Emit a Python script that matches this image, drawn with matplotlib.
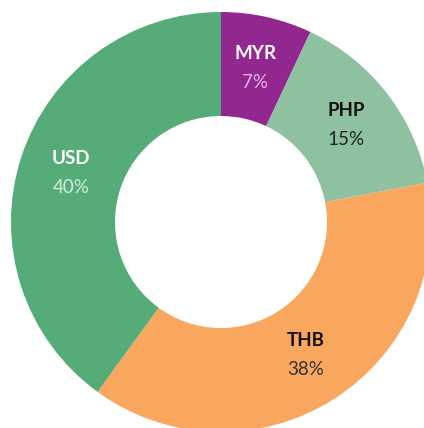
import matplotlib.pyplot as plt
import numpy as np

currencies = ['MYR', 'PHP', 'THB', 'USD']
shares = [7, 15, 38, 40]
colors = ['#92278f', '#8dc19f', '#f9a65f', '#55ac78']
name_colors = ['white', '#111111', '#111111', 'white']
pct_colors = ['#e3b3df', '#222222', '#333333', '#d4ecdc']

plt.rcParams['font.family'] = ['Lato', 'DejaVu Sans']

fig = plt.figure(figsize=(4.24, 4.28), dpi=100)
ax = fig.add_axes([0, 0, 1, 1])

cx, cy = 221, 206
r_out, r_in = 210, 106
wedges, _ = ax.pie(shares, colors=colors, startangle=90, counterclock=False,
                   radius=r_out, center=(cx, cy),
                   wedgeprops=dict(width=r_out - r_in, linewidth=0))
ax.set_xlim(0, 424)
ax.set_ylim(0, 428)
ax.set_aspect('equal')
ax.axis('off')

r_lab = (r_out + r_in) / 2
for w, name, val, nc, pc in zip(wedges, currencies, shares, name_colors, pct_colors):
    ang = np.deg2rad((w.theta1 + w.theta2) / 2)
    x = cx + r_lab * np.cos(ang)
    y = cy + r_lab * np.sin(ang)
    ax.text(x, y + 14.5, name, ha='center', va='center', fontsize=13.5,
            fontweight='bold', color=nc)
    ax.text(x, y - 14.5, f'{val}%', ha='center', va='center', fontsize=13.5,
            fontweight='normal', color=pc)

fig.savefig('out.png', dpi=100)
